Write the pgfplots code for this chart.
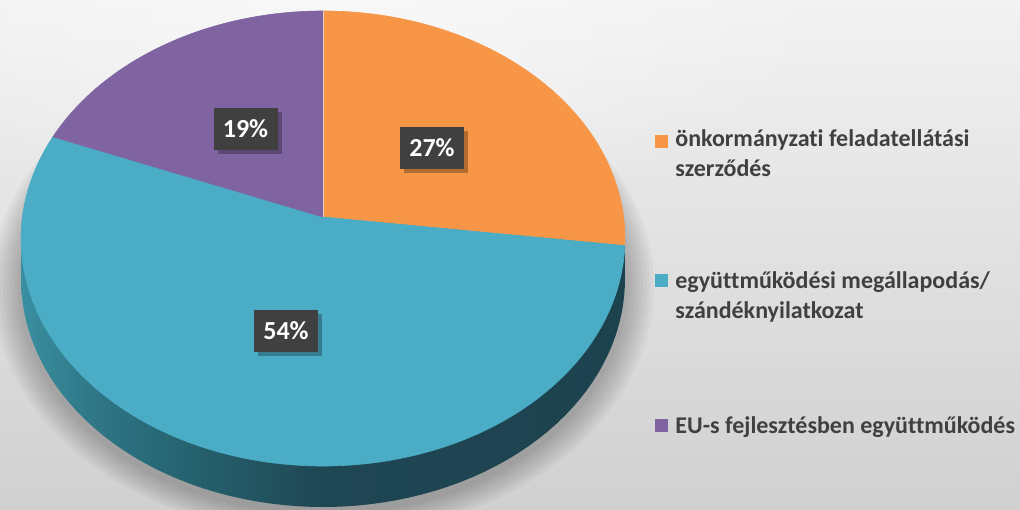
\documentclass[border=0pt]{standalone}
\usepackage{pgfplots}
\pgfplotsset{compat=1.18}
\usepackage{pgfplotstable}
\usepackage{fontspec}
\setmainfont{Carlito}[Ligatures=NoCommon]
\usetikzlibrary{shadings,fadings}

\definecolor{cOrange}{HTML}{F79646}
\definecolor{cTeal}{HTML}{4BACC6}
\definecolor{cPurple}{HTML}{8064A2}
\definecolor{cBox}{HTML}{404040}
\definecolor{cText}{HTML}{404040}
\definecolor{sA}{HTML}{3A8FA0}
\definecolor{sB}{HTML}{2E7585}
\definecolor{sC}{HTML}{25606D}
\definecolor{sD}{HTML}{1F4753}
\definecolor{sE}{HTML}{1C424E}
\definecolor{bgTop}{HTML}{F2F2F2}
\definecolor{bgBot}{HTML}{D0D0D0}
\pgfdeclarehorizontalshading{sidegrad}{100bp}{color(0bp)=(sA); color(25bp)=(sA); color(31.5bp)=(sB); color(39.7bp)=(sC); color(50bp)=(sD); color(75bp)=(sE); color(100bp)=(sE)}
\tikzfading[name=glow, inner color=transparent!0, outer color=transparent!100]

\pgfplotstableread{
share
27
54
19
}\pietable

\begin{document}%
\begin{tikzpicture}[declare function={
  px(\t)=323+300.6*cos(\t)/(1+0.0945*sin(\t));
  py(\t)=292+225.5*sin(\t)/(1+0.0945*sin(\t));
}]
\pgfplotstablegetelem{0}{share}\of\pietable \let\vA\pgfplotsretval
\pgfplotstablegetelem{1}{share}\of\pietable \let\vB\pgfplotsretval
\pgfplotstablegetelem{2}{share}\of\pietable \let\vC\pgfplotsretval
\pgfmathsetmacro\aA{90}
\pgfmathsetmacro\aB{90-3.6*\vA}
\pgfmathsetmacro\aC{\aB-3.6*\vB}
\pgfmathsetmacro\aD{\aC-3.6*\vC}
\begin{axis}[width=510pt, height=254.5pt, scale only axis,
  xmin=0, xmax=1020, ymin=0, ymax=509, hide axis, clip=true]
% background
\addplot[draw=none, top color=bgTop, bottom color=bgBot] coordinates {(0,0) (1020,0) (1020,509) (0,509)} -- cycle;
\addplot[draw=none, fill=white, opacity=0.55, path fading=glow] coordinates {(-200,280) (860,280) (860,760) (-200,760)} -- cycle;
% soft shadow
\pgfplotsinvokeforeach{1,...,8}{
\addplot[draw=none, fill=black, opacity=0.032, domain=0:360, samples=120, variable=\t]
  ({323+(1+0.012*#1)*(px(\t)-323)}, {292-46+(1+0.012*#1)*(py(\t)-292)}) -- cycle;
}
% side of the pie
\addplot[draw=none, shade, shading=sidegrad, domain=0:360, samples=150, variable=\t]
  ({px(\t)}, {py(\t)-41}) -- cycle;
\addplot[draw=none, shade, shading=sidegrad] coordinates {(21.05,229.6) (624.95,229.6) (624.95,270.6) (21.05,270.6)} -- cycle;
% top face
\addplot[fill=cOrange, draw=cOrange, line width=0.3pt, domain=\aB:\aA, samples=80, variable=\t]
  ({px(\t)}, {py(\t)}) -- (axis cs:323,292) -- cycle;
\addplot[fill=cTeal, draw=cTeal, line width=0.3pt, domain=\aC:\aB, samples=150, variable=\t]
  ({px(\t)}, {py(\t)}) -- (axis cs:323,292) -- cycle;
\addplot[fill=cPurple, draw=cPurple, line width=0.3pt, domain=\aD:\aC, samples=60, variable=\t]
  ({px(\t)}, {py(\t)}) -- (axis cs:323,292) -- cycle;
\addplot[draw=white, opacity=0.6, line width=0.5pt] coordinates {(323.5,292) (323.5,498)};
% data labels
\tikzset{lbl/.style={fill=cBox, text=white, font=\bfseries\fontsize{13}{15}\selectfont, minimum width=32pt, minimum height=21pt, inner sep=0pt},
         lsh/.style={fill=black, opacity=0.28, minimum width=32pt, minimum height=21pt, inner sep=0pt}}
\node[lsh] at (axis cs:436,357) {};
\node[lsh] at (axis cs:249.5,376) {};
\node[lsh] at (axis cs:290,174) {};
\node[lbl] at (axis cs:432,361) {\vA\%};
\node[lbl] at (axis cs:245.5,380) {\vC\%};
\node[lbl] at (axis cs:286,178) {\vB\%};
% legend
\tikzset{lsq/.style={minimum size=6.5pt, inner sep=0pt},
         ltx/.style={anchor=base west, inner sep=0pt, text=cText, font=\bfseries\fontsize{12}{14}\selectfont}}
\node[lsq, fill=cOrange] at (axis cs:661.5,367.5) {};
\node[ltx] at (axis cs:675,362) {önkormányzati feladatellátási};
\node[ltx] at (axis cs:675,332) {szerződés};
\node[lsq, fill=cTeal] at (axis cs:661.5,228.5) {};
\node[ltx] at (axis cs:675,221) {együttműködési megállapodás/};
\node[ltx] at (axis cs:675,191) {szándéknyilatkozat};
\node[lsq, fill=cPurple] at (axis cs:661.5,84) {};
\node[ltx] at (axis cs:675,76) {EU-s fejlesztésben együttműködés};
\end{axis}
\pgfresetboundingbox
\path[use as bounding box] (current axis.south west) rectangle (current axis.north east);
\end{tikzpicture}%
\end{document}
